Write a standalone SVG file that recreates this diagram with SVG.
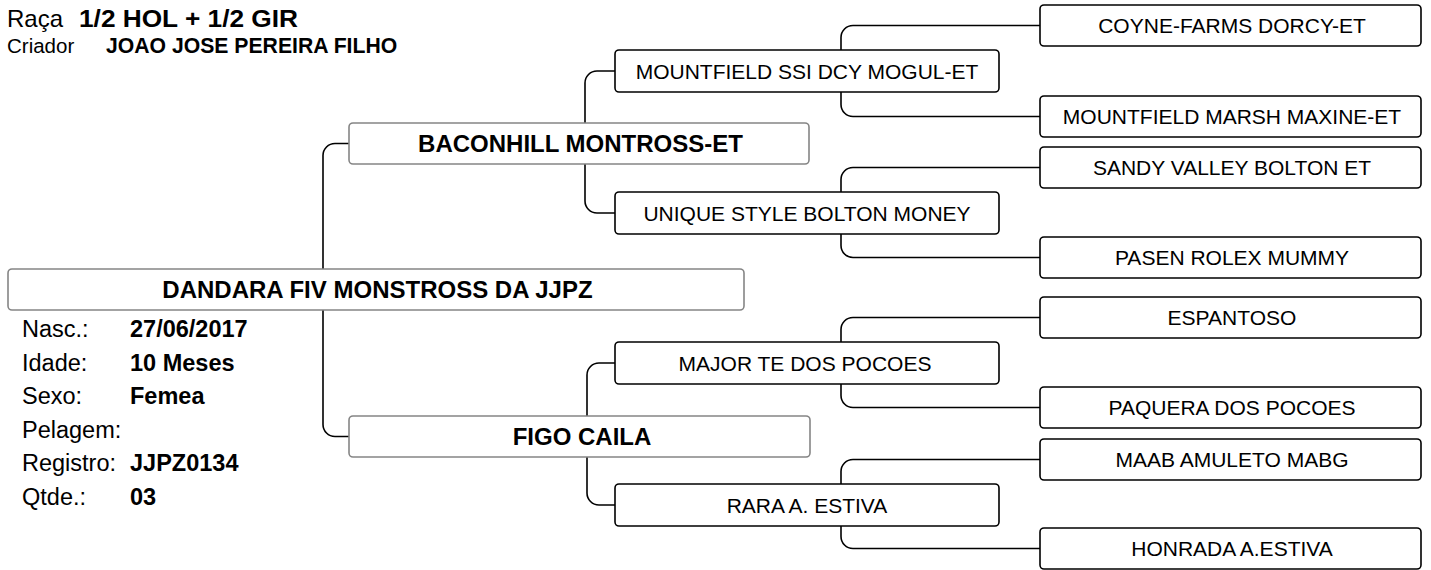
<svg xmlns="http://www.w3.org/2000/svg" width="1431" height="570" viewBox="0 0 1431 570">
<style>
text{font-family:"Liberation Sans",Arial,sans-serif;fill:#000}
.b{font-weight:bold}
.c{text-anchor:middle}
.g0{fill:#fff;stroke:#858585;stroke-width:1.6}
.g2{fill:#fff;stroke:#000;stroke-width:1.6}
.n{font-size:21px}
.h{font-size:24px;font-weight:bold;text-anchor:middle}
.lbl{font-size:23.5px}
.val{font-size:23.5px;font-weight:bold}
#connectors path{fill:none;stroke:#000;stroke-width:1.6}
</style>
<rect width="1431" height="570" fill="#fff"/>
<g id="header">
<text x="7" y="27" style="font-size:24px">Raça</text>
<text x="79" y="27" class="b" style="font-size:24px" textLength="219" lengthAdjust="spacingAndGlyphs">1/2 HOL + 1/2 GIR</text>
<text x="7" y="53" style="font-size:20.5px">Criador</text>
<text x="106" y="53" class="b" style="font-size:21.2px">JOAO JOSE PEREIRA FILHO</text>
</g>
<g id="connectors">
<path d="M349,143.5 H335 A12,12 0 0 0 323,155.5 V424.5 A12,12 0 0 0 335,436.5 H349"/>
<path d="M615,71 H597 A12,12 0 0 0 585,83 V201 A12,12 0 0 0 597,213 H615"/>
<path d="M615,363 H599 A12,12 0 0 0 587,375 V493 A12,12 0 0 0 599,505 H615"/>
<path d="M1040,25.5 H853 A12,12 0 0 0 841,37.5 V104.5 A12,12 0 0 0 853,116.5 H1040"/>
<path d="M1040,167.5 H853 A12,12 0 0 0 841,179.5 V245.5 A12,12 0 0 0 853,257.5 H1040"/>
<path d="M1040,317.5 H853 A12,12 0 0 0 841,329.5 V395.5 A12,12 0 0 0 853,407.5 H1040"/>
<path d="M1040,459.5 H853 A12,12 0 0 0 841,471.5 V536.5 A12,12 0 0 0 853,548.5 H1040"/>
</g>
<g id="subject">
<rect class="g0" x="8" y="269" width="736" height="41" rx="4"/>
<text class="h" x="377.5" y="298">DANDARA FIV MONSTROSS DA JJPZ</text>
</g>
<g id="info">
<text class="lbl" x="22" y="337">Nasc.:</text><text class="val" x="130" y="337">27/06/2017</text>
<text class="lbl" x="22" y="370.6">Idade:</text><text class="val" x="130" y="370.6">10 Meses</text>
<text class="lbl" x="22" y="404.2">Sexo:</text><text class="val" x="130" y="404.2">Femea</text>
<text class="lbl" x="22" y="437.8">Pelagem:</text>
<text class="lbl" x="22" y="471.4">Registro:</text><text class="val" x="130" y="471.4">JJPZ0134</text>
<text class="lbl" x="22" y="505">Qtde.:</text><text class="val" x="130" y="505">03</text>
</g>
<g id="sire">
<rect class="g0" x="349" y="123" width="460" height="41" rx="4"/>
<text class="h" x="580.5" y="152">BACONHILL MONTROSS-ET</text>
</g>
<g id="dam">
<rect class="g0" x="349" y="416" width="461" height="41" rx="4"/>
<text class="h" x="582" y="445">FIGO CAILA</text>
</g>
<g id="ss">
<rect class="g2" x="615" y="50" width="384" height="42" rx="4"/>
<text class="n c" x="807" y="78.5">MOUNTFIELD SSI DCY MOGUL-ET</text>
</g>
<g id="sd">
<rect class="g2" x="615" y="192" width="384" height="42" rx="4"/>
<text class="n c" x="807" y="220.5">UNIQUE STYLE BOLTON MONEY</text>
</g>
<g id="ds">
<rect class="g2" x="615" y="342" width="384" height="42" rx="4"/>
<text class="n c" x="805" y="370.5">MAJOR TE DOS POCOES</text>
</g>
<g id="dd">
<rect class="g2" x="615" y="484" width="384" height="42" rx="4"/>
<text class="n c" x="807" y="512.5">RARA A. ESTIVA</text>
</g>
<g id="sss">
<rect class="g2" x="1040" y="5" width="381" height="41" rx="4"/>
<text class="n c" x="1232" y="33">COYNE-FARMS DORCY-ET</text>
</g>
<g id="ssd">
<rect class="g2" x="1040" y="96" width="381" height="41" rx="4"/>
<text class="n c" x="1232" y="124">MOUNTFIELD MARSH MAXINE-ET</text>
</g>
<g id="sds">
<rect class="g2" x="1040" y="147" width="381" height="41" rx="4"/>
<text class="n c" x="1232" y="175">SANDY VALLEY BOLTON ET</text>
</g>
<g id="sdd">
<rect class="g2" x="1040" y="237" width="381" height="41" rx="4"/>
<text class="n c" x="1232" y="265">PASEN ROLEX MUMMY</text>
</g>
<g id="dss">
<rect class="g2" x="1040" y="297" width="381" height="41" rx="4"/>
<text class="n c" x="1232" y="325">ESPANTOSO</text>
</g>
<g id="dsd">
<rect class="g2" x="1040" y="387" width="381" height="41" rx="4"/>
<text class="n c" x="1232" y="415">PAQUERA DOS POCOES</text>
</g>
<g id="dds">
<rect class="g2" x="1040" y="439" width="381" height="41" rx="4"/>
<text class="n c" x="1232" y="467">MAAB AMULETO MABG</text>
</g>
<g id="ddd">
<rect class="g2" x="1040" y="528" width="381" height="41" rx="4"/>
<text class="n c" x="1232" y="556">HONRADA A.ESTIVA</text>
</g>
</svg>
